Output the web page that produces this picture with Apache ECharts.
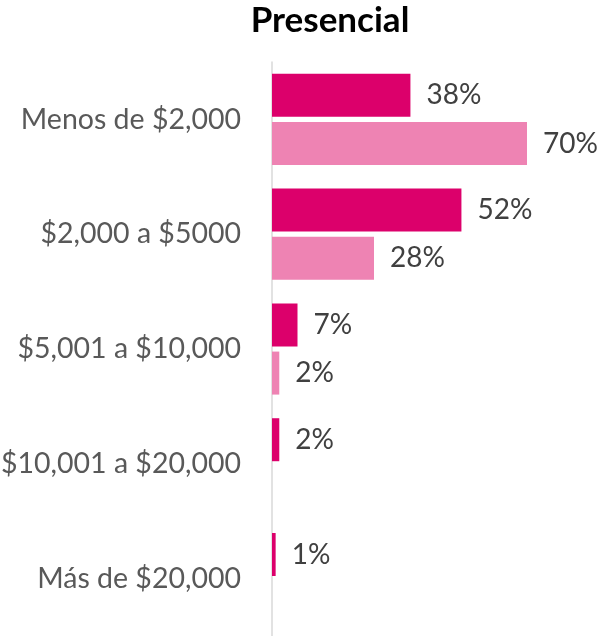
<!DOCTYPE html>
<html>
<head>
<meta charset="utf-8">
<script src="https://cdn.jsdelivr.net/npm/echarts@6/dist/echarts.min.js"></script>
<style>
  html, body { margin: 0; padding: 0; background: #fff; }
  #chart { width: 600px; height: 636px; }
</style>
</head>
<body>
<div id="chart"></div>
<script>
// datos
let categorias = ["Menos de $2,000", "$2,000 a $5000", "$5,001 a $10,000", "$10,001 a $20,000", "Más de $20,000"];
let serieA = [38, 52, 7, 2, 1];
let serieB = [70, 28, 2, 0, 0];

let fuente = "Lato, 'Noto Sans', sans-serif";

let etiqueta = {
    show: true,
    position: "right",
    distance: 16,
    fontFamily: fuente,
    fontSize: 28,
    color: "#404040",
    formatter: (p) => p.value ? p.value + "%" : ""
};

let chart = echarts.init(document.getElementById("chart"), null, { renderer: "canvas" });
chart.setOption({
    animation: false,
    backgroundColor: "#fff",
    title: {
        text: "Presencial",
        left: 325,
        textAlign: "center",
        top: -2,
        textStyle: { fontFamily: fuente, fontSize: 35, fontWeight: "bold", color: "#000" }
    },
    grid: { left: 272, width: 255, top: 62, bottom: 0, containLabel: false, outerBoundsMode: "none" },
    xAxis: {
        type: "value",
        min: 0,
        max: 70,
        show: false
    },
    yAxis: {
        type: "category",
        inverse: true,
        data: categorias,
        axisLine: { show: true, lineStyle: { color: "#D9D9D9", width: 1.5 } },
        axisTick: { show: false },
        axisLabel: { margin: 31, fontFamily: fuente, fontSize: 28.5, color: "#595959" }
    },
    series: [
        {
            type: "bar",
            data: serieA,
            barWidth: 43,
            barGap: "12%",
            itemStyle: { color: "#DC006B" },
            label: etiqueta
        },
        {
            type: "bar",
            data: serieB,
            barWidth: 43,
            itemStyle: { color: "#EE83B3" },
            label: etiqueta
        }
    ]
});
</script>
</body>
</html>
